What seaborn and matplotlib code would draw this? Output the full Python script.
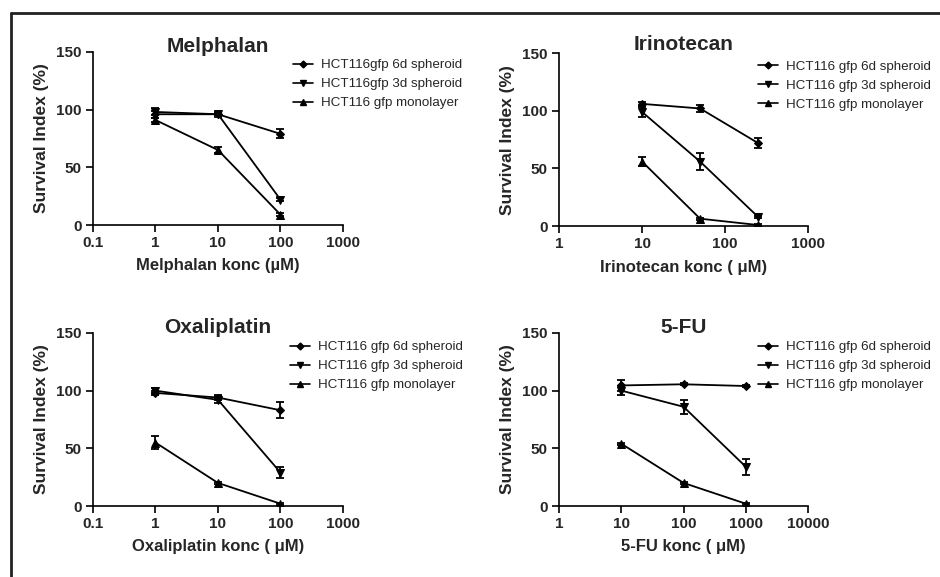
import numpy as np
import pandas as pd
import matplotlib
matplotlib.use('Agg')
import matplotlib.pyplot as plt
from matplotlib.lines import Line2D
import seaborn as sns

sns.set_style('ticks')
plt.rcParams['font.family'] = ['Liberation Sans', 'DejaVu Sans']

# values
titles = ['Melphalan', 'Irinotecan', 'Oxaliplatin', '5-FU']
xlabels = ['Melphalan konc (µM)', 'Irinotecan konc ( μM)',
           'Oxaliplatin konc ( μM)', '5-FU konc ( μM)']
conc = [[1, 10, 100], [10, 50, 250], [1, 10, 100], [10, 100, 1000]]
xticks = [[0.1, 1, 10, 100, 1000], [1, 10, 100, 1000],
          [0.1, 1, 10, 100, 1000], [1, 10, 100, 1000, 10000]]
xticklabels = [['0.1', '1', '10', '100', '1000'], ['1', '10', '100', '1000'],
               ['0.1', '1', '10', '100', '1000'], ['1', '10', '100', '1000', '10000']]

labels = [['HCT116gfp 6d spheroid', 'HCT116gfp 3d spheroid', 'HCT116 gfp monolayer'],
          ['HCT116 gfp 6d spheroid', 'HCT116 gfp 3d spheroid', 'HCT116 gfp monolayer'],
          ['HCT116 gfp 6d spheroid', 'HCT116 gfp 3d spheroid', 'HCT116 gfp monolayer'],
          ['HCT116 gfp 6d spheroid', 'HCT116 gfp 3d spheroid', 'HCT116 gfp monolayer']]

sph6 = [[96, 96, 79], [106, 102, 72], [98, 94, 83], [104.5, 105.5, 104]]
sph6_err = [[3, 2, 4], [2, 3, 4], [2, 2, 7], [5, 1, 1]]
sph3 = [[98, 96, 22], [99, 56, 8], [100, 92, 29], [100, 86, 34]]
sph3_err = [[3, 1, 1], [4, 7, 1], [2, 3, 5], [4, 6, 7]]
mono = [[91, 65, 9], [56, 6.5, 1], [55, 20, 2], [54, 20, 2]]
mono_err = [[2, 3, 1], [4, 1, 1], [6, 1, 1], [1, 1, 1]]

markers = ['D', 'v', '^']
msizes = [4, 5.5, 5.5]

positions = [[0.0989, 0.610, 0.266, 0.300],
             [0.5947, 0.608, 0.265, 0.300],
             [0.0989, 0.123, 0.266, 0.300],
             [0.5947, 0.123, 0.265, 0.300]]
leg_anchor = [(0.80, 0.96), (0.80, 0.958), (0.79, 0.953), (0.80, 0.953)]
title_y = [1.0, 1.015, 1.0, 1.0]

fig = plt.figure(figsize=(9.4, 5.77), dpi=100)

for i in range(4):
    ax = fig.add_axes(positions[i])
    series = [sph6[i], sph3[i], mono[i]]
    errs = [sph6_err[i], sph3_err[i], mono_err[i]]
    rows = []
    for j in range(3):
        for k in range(3):
            rows.append({'conc': conc[i][k], 'survival': series[j][k],
                         'group': labels[i][j]})
    df = pd.DataFrame(rows)
    sns.lineplot(data=df, x='conc', y='survival', style='group',
                 markers=dict(zip(labels[i], markers)), dashes=False,
                 color='black', lw=1.3, markersize=5.5, markeredgecolor='black',
                 ax=ax, legend=False)
    # smaller diamonds
    for ln in ax.lines:
        if ln.get_marker() == 'D':
            ln.set_markersize(msizes[0])
    for j in range(3):
        ax.errorbar(conc[i], series[j], yerr=errs[j], fmt='none',
                    ecolor='black', elinewidth=1.3, capsize=3, capthick=1.3)
    ax.set_xscale('log')
    ax.set_xlim(xticks[i][0], xticks[i][-1])
    ax.set_ylim(0, 150)
    ax.set_xticks(xticks[i])
    ax.set_xticklabels(xticklabels[i])
    ax.xaxis.set_minor_locator(matplotlib.ticker.NullLocator())
    ax.set_yticks([0, 50, 100, 150])
    ax.tick_params(labelsize=11, length=5, width=1.2, color='black', pad=3)
    for lab in ax.get_xticklabels() + ax.get_yticklabels():
        lab.set_fontweight('bold')
    for s in ['left', 'bottom']:
        ax.spines[s].set_linewidth(1.2)
        ax.spines[s].set_color('black')
    sns.despine(ax=ax)
    ax.set_xlabel(xlabels[i], fontsize=12, fontweight='bold', labelpad=6)
    ax.set_ylabel('Survival Index (%)', fontsize=12.5, fontweight='bold', labelpad=5)
    ax.set_title(titles[i], fontsize=15, fontweight='bold', pad=0, y=title_y[i])

    handles = [Line2D([], [], color='black', lw=1.2, marker=markers[j],
                      markersize=msizes[j] - 0.5) for j in range(3)]
    ax.legend(handles, labels[i], loc='upper left', bbox_to_anchor=leg_anchor[i],
              frameon=False, fontsize=9.6, borderaxespad=0, borderpad=0,
              handlelength=1.5, handletextpad=0.6, labelspacing=0.5)

# partial frame round the figure
fig.add_artist(Line2D([0.0117, 1.0], [0.9775, 0.9775], color='#222222', lw=2))
fig.add_artist(Line2D([0.0117, 0.0117], [0.0, 0.9775], color='#222222', lw=2))

plt.savefig('out.png', dpi=100)
